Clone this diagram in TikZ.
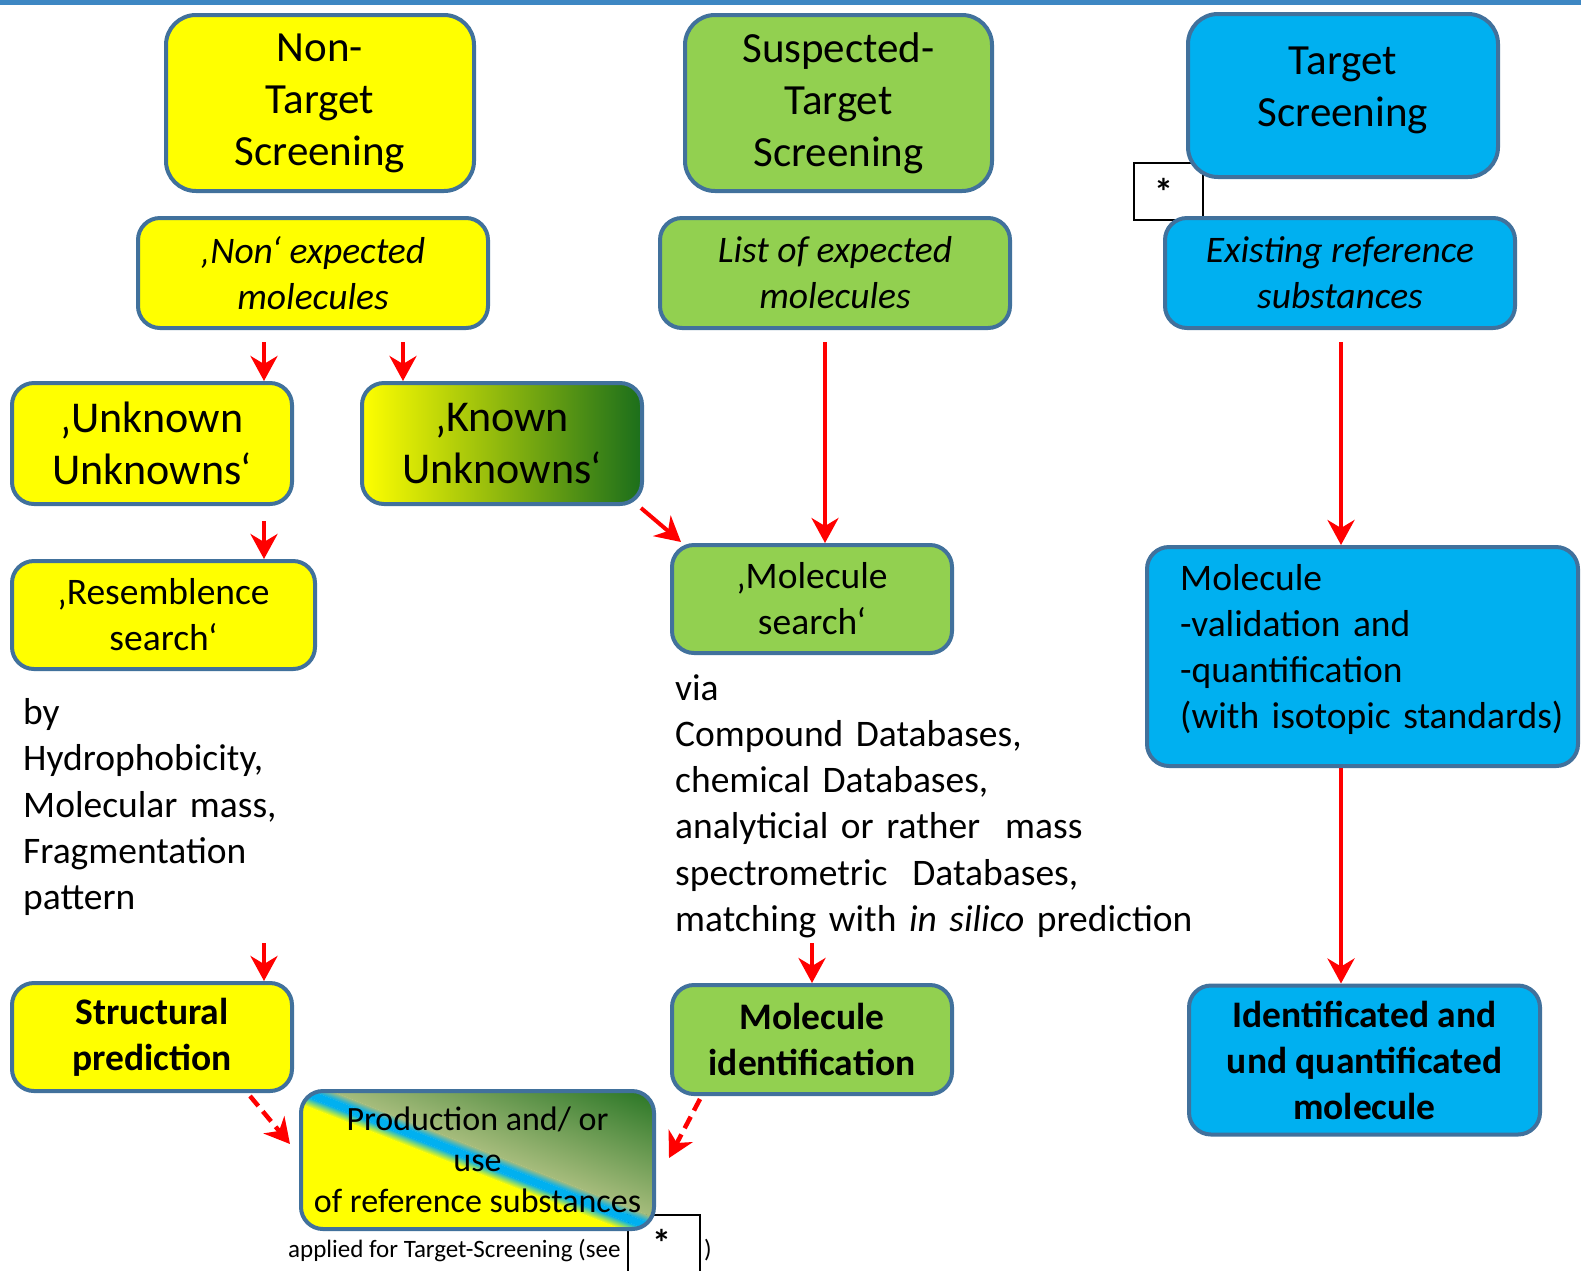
\documentclass[tikz,border=0pt]{standalone}
\usepackage{fontspec}
\setmainfont{Carlito}
\usetikzlibrary{arrows.meta}
\definecolor{yelc}{HTML}{FFFF00}
\definecolor{grnc}{HTML}{92D050}
\definecolor{bluc}{HTML}{00B0F0}
\definecolor{bordc}{HTML}{41719C}
\definecolor{dkgrn}{HTML}{1B6E1B}
\definecolor{olgrn}{HTML}{9DB56F}
\definecolor{ltolive}{HTML}{A6BC7C}
\definecolor{topbar}{HTML}{3D87C3}
\tikzset{
  box/.style={draw=bordc, line width=4pt, rounded corners=22pt, inner sep=0pt, align=center,
    font=\fontsize{37.5}{46}\selectfont},
  hdr/.style={box, rounded corners=30pt, font=\fontsize{43}{52}\selectfont},
  bfont/.style={font=\fontsize{37.5}{46}\selectfont\bfseries},
  itfont/.style={font=\fontsize{37.5}{46}\selectfont\itshape},
  yel/.style={fill=yelc}, grn/.style={fill=grnc}, blu/.style={fill=bluc},
  arr/.style={draw=red, line width=4pt, -{Stealth[length=25pt,width=27pt,inset=8pt]}},
  darr/.style={arr, line width=4.5pt, dash pattern=on 13pt off 7pt},
  astbox/.style={draw=black, line width=1.5pt, inner sep=0pt, minimum width=69pt},
  astxt/.style={inner sep=0pt, font=\fontsize{38}{38}\selectfont\bfseries},
  plain/.style={inner sep=0pt, anchor=base west, align=left, font=\fontsize{37.5}{46.3}\selectfont},
}
\begin{document}
\begin{tikzpicture}[x=1pt,y=-1pt]
\useasboundingbox (0,0) rectangle (1581,1270);
\fill[white] (0,0) rectangle (1581,1270);
\fill[topbar] (0,0) rectangle (1581,5);

% asterisk boxes (behind)
\node[astbox, minimum height=57pt] (ast1) at (1168.5,191.5) {};
\node[astxt] (ast1t) at (1164,192) {*};
\draw[black, line width=1.5pt] (628,1275) -- (628,1215) -- (700,1215) -- (700,1275);
\coordinate (ast2) at (664,1215);
\node[astxt] (ast2t) at (662,1243) {*};

% headers
\node[hdr, yel, minimum width=308pt, minimum height=176pt] (nts) at (320,103) {Non-\\Target\\Screening};
\node[hdr, grn, minimum width=307pt, minimum height=176pt] (sts) at (838.5,103) {Suspected-\\Target\\Screening};
\node[hdr, blu, minimum width=310pt, minimum height=163pt] (ts) at (1343,95.5) {Target\\Screening\\[-34pt]};

% second row
\node[box, yel, itfont, minimum width=350pt, minimum height=110pt] (nonexp) at (313,273) {‚Non‘ expected\\molecules};
\node[box, grn, itfont, minimum width=350pt, minimum height=110pt] (listexp) at (835,273) {List of expected\\molecules};
\node[box, blu, itfont, minimum width=350pt, minimum height=110pt] (exist) at (1340,273) {Existing reference\\substances};

% third row
\node[box, yel, minimum width=280pt, minimum height=121pt, font=\fontsize{44}{52}\selectfont] (unk) at (152,443.5) {‚Unknown\\Unknowns‘};
\node[box, left color=yelc, middle color=ltolive, right color=dkgrn, minimum width=280pt, minimum height=121pt, font=\fontsize{44}{52}\selectfont] (kun) at (502,443.5) {‚Known\\Unknowns‘};

\node[box, yel, minimum width=303pt, minimum height=108pt] (res) at (163.5,615) {‚Resemblence\\search‘};
\node[box, grn, minimum width=280pt, minimum height=108pt] (msearch) at (812,599) {‚Molecule\\search‘};
\node[box, blu, minimum width=431pt, minimum height=219pt] (mval) at (1362.5,656.5) {};
\node[plain, text width=400pt] (mvaltext) at (1180,590) {Molecule\\-validation and\\-quantification\\(with isotopic standards)};

% free texts
\node[plain, text width=300pt] (bytext) at (23,724.5) {by\\Hydrophobicity,\\Molecular mass,\\Fragmentation\\pattern};
\node[plain, text width=560pt] (viatext) at (675,700) {via\\Compound Databases,\\chemical Databases,\\analyticial or rather\ \ mass\\spectrometric\ \ Databases,\\matching with \textit{in silico} prediction};

% bottom row
\node[box, yel, bfont, minimum width=280pt, minimum height=108pt] (struct) at (152,1037) {Structural\\prediction};
\node[box, grn, bfont, minimum width=280pt, minimum height=109pt] (mident) at (812,1039.5) {Molecule\\identification};
\node[box, blu, bfont, minimum width=351pt, minimum height=149pt] (ident) at (1364.5,1060) {Identificated and\\und quantificated\\molecule};

% production box gradient (diagonal split)
\begin{scope}
  \clip[rounded corners=22pt] (301,1091) rectangle (654,1229);
  \begin{scope}[transform canvas={rotate around={-21.35:(477.5,1160)}}]
    \fill[yelc] (227.5,1172) rectangle (727.5,1320);
    \shade[top color=bluc, bottom color=yelc] (227.5,1163) rectangle (727.5,1172.2);
    \fill[bluc] (227.5,1156) rectangle (727.5,1163.2);
    \shade[top color=ltolive, bottom color=bluc] (227.5,1149) rectangle (727.5,1156.2);
    \shade[top color=dkgrn!92!ltolive, bottom color=ltolive] (227.5,1030) rectangle (727.5,1149.2);
    \fill[dkgrn!92!ltolive] (227.5,980) rectangle (727.5,1030.2);
  \end{scope}
\end{scope}
\node[box, minimum width=353pt, minimum height=138pt, font=\fontsize{34}{41}\selectfont] (prod) at (477.5,1160) {Production and/ or\\use\\of reference substances};

\node[inner sep=0pt, anchor=base west, font=\fontsize{25}{28}\selectfont] (applied) at (288,1257) {applied for Target-Screening (see};
\node[inner sep=0pt, anchor=base west, font=\fontsize{25}{28}\selectfont] (close) at (704,1257) {)};

% arrows
\coordinate (s7) at (264,943);
\coordinate (s8) at (812,943);
\draw[arr] ([xshift=-49pt,yshift=-12pt]nonexp.south) -- ([xshift=112pt]unk.north);
\draw[arr] ([xshift=90pt,yshift=-12pt]nonexp.south) -- ([xshift=-99pt]kun.north);
\draw[arr] ([xshift=112pt,yshift=-15pt]unk.south) -- ([xshift=100.5pt]res.north);
\draw[arr] ([xshift=-10pt,yshift=-12pt]listexp.south) -- ([xshift=13pt]msearch.north);
\draw[arr] ([xshift=1pt,yshift=-12pt]exist.south) -- ([xshift=-21.5pt]mval.north);
\draw[arr] ([xshift=-3pt,yshift=-2pt]kun.south east) -- ([xshift=11pt,yshift=1pt]msearch.north west);
\draw[arr] (s7) -- ([xshift=112pt]struct.north);
\draw[arr] (s8) -- (mident.north);
\draw[arr] ([xshift=-21.5pt]mval.south) -- ([xshift=-23.5pt]ident.north);
\draw[darr] ([xshift=98pt,yshift=-3pt]struct.south) -- ([xshift=-9pt,yshift=16pt]prod.west);
\draw[darr] ([xshift=-112pt,yshift=-3pt]mident.south) -- ([xshift=13pt,yshift=2pt]prod.east);
\end{tikzpicture}
\end{document}
